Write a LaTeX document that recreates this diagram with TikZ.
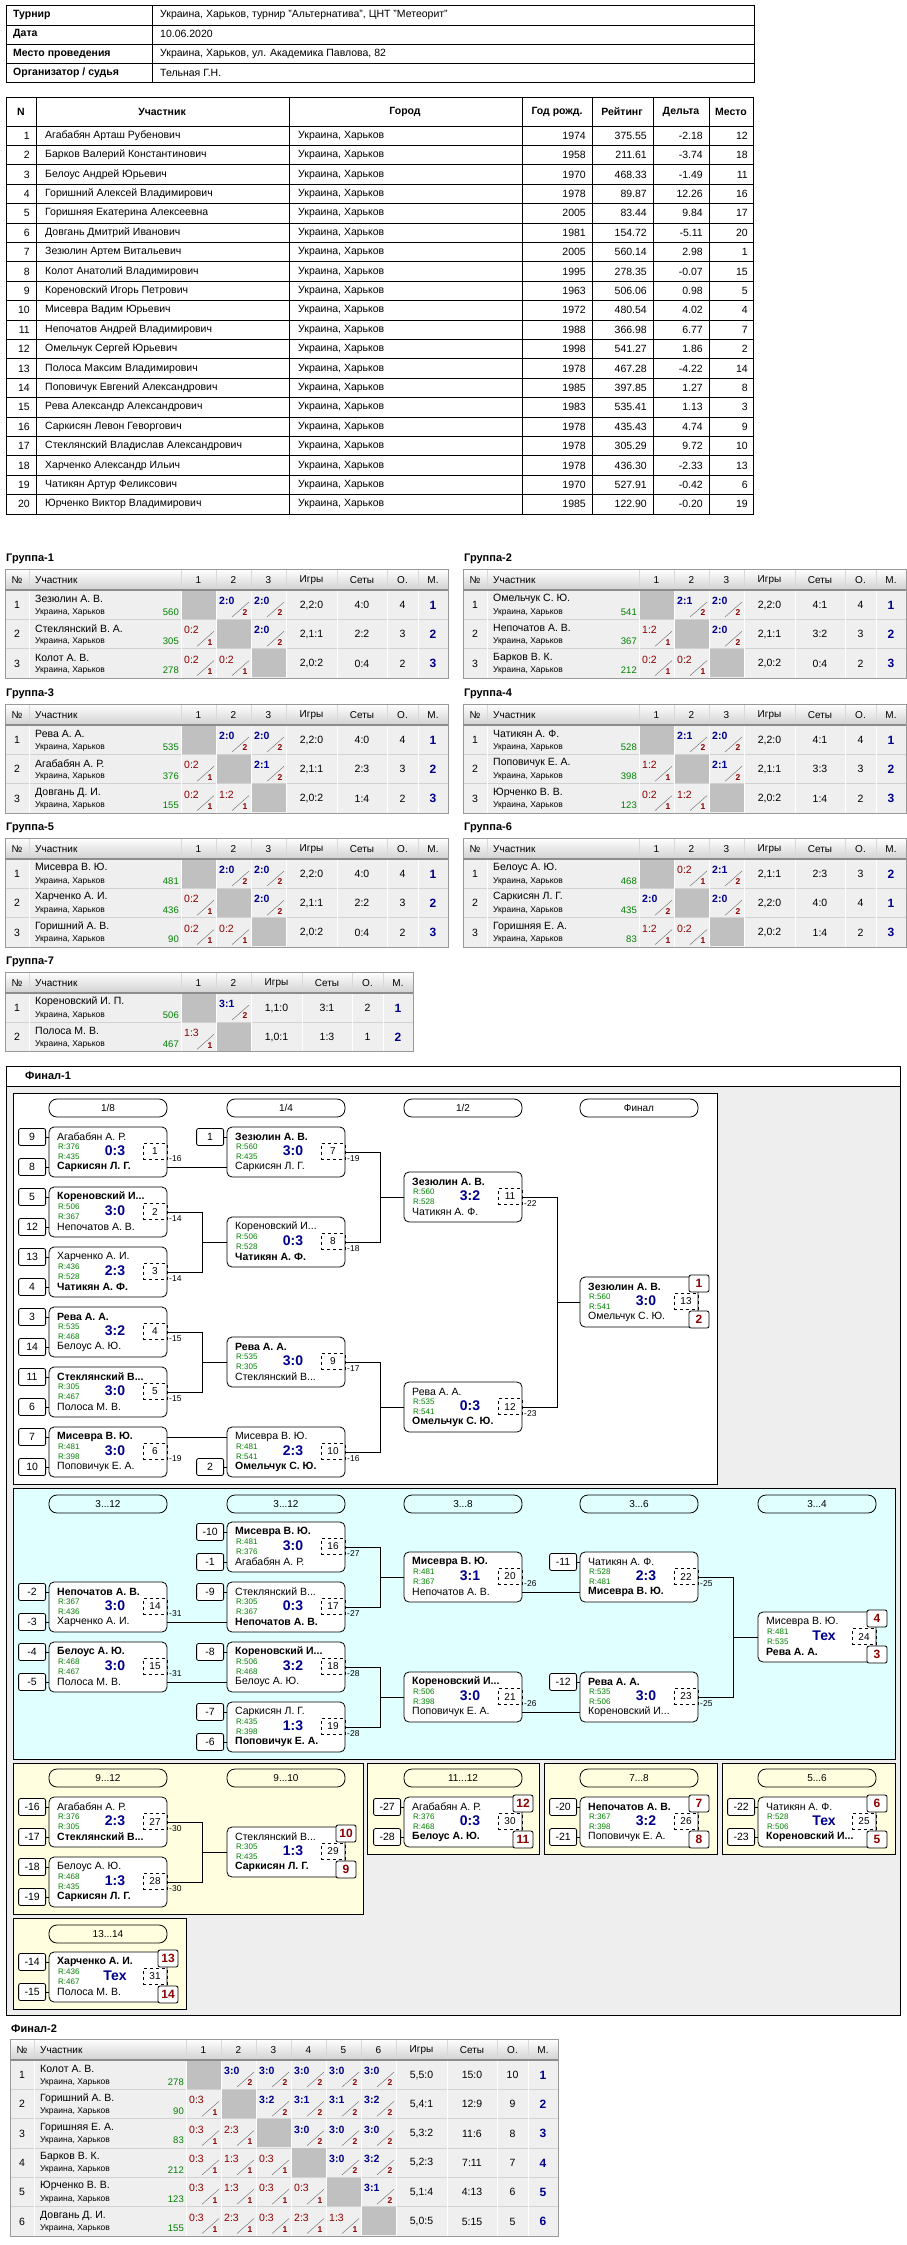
\documentclass[tikz,border=0pt]{standalone}
\usepackage{fontspec}
\setmainfont{Liberation Sans}
\usetikzlibrary{positioning}
\definecolor{navyc}{RGB}{0,0,140}
\definecolor{redc}{RGB}{140,0,0}
\definecolor{greenc}{RGB}{0,128,0}
\definecolor{rowc}{RGB}{239,239,239}
\definecolor{grayc}{RGB}{192,192,192}
\definecolor{cyanp}{RGB}{224,255,255}
\definecolor{yelp}{RGB}{255,255,224}
\definecolor{greyp}{RGB}{238,238,238}

\newcommand\fs[1]{\fontsize{#1}{#1}\selectfont}

% round-robin tables
\newcommand\rrtab[5]{% x0, y0, cols, players, title
  \def\gx{#1}\def\gy{#2}\def\gm{#3}
  \pgfmathsetmacro\xa{#1+176+35*#3}
  \pgfmathsetmacro\yb{#2+21+29.3*#4}
  \node[gtitle] at (#1+1,#2-10) {#5};
  \shade[top color=white,bottom color=black!18] (#1,#2) rectangle (\xa+162,#2+21);
  \fill[rowc] (#1,#2+21) rectangle (\xa+162,\yb);
  \foreach \i in {1,...,#4} \draw[black!18] (#1,#2+21+29.3*\i) -- (\xa+162,#2+21+29.3*\i);
  \foreach \cx in {24,176} \draw[white,line width=1pt] (#1+\cx,#2+21) -- (#1+\cx,\yb);
  \foreach \k in {1,...,#3} \draw[white,line width=1pt] (#1+176+35*\k,#2+21) -- (#1+176+35*\k,\yb);
  \foreach \cx in {51,101,132} \draw[white,line width=1pt] (\xa+\cx,#2+21) -- (\xa+\cx,\yb);
  \foreach \cx in {24,176} \draw[black!15] (#1+\cx,#2) -- (#1+\cx,#2+21);
  \foreach \k in {1,...,#3} \draw[black!15] (#1+176+35*\k,#2) -- (#1+176+35*\k,#2+21);
  \foreach \cx in {51,101,132} \draw[black!15] (\xa+\cx,#2) -- (\xa+\cx,#2+21);
  \draw[black!40] (#1,#2) rectangle (\xa+162,\yb);
  \draw[black!45,line width=1.2pt] (#1,#2+21) -- (\xa+162,#2+21);
  \node[hd] at (#1+12,#2+11) {№};
  \node[hd,anchor=west] at (#1+30,#2+11) {Участник};
  \foreach \k in {1,...,#3} \node[hd] at (#1+158.5+35*\k,#2+11) {\k};
  \node[hd] at (\xa+25.5,#2+11) {Игры};
  \node[hd] at (\xa+76,#2+11) {Сеты};
  \node[hd] at (\xa+116.5,#2+11) {О.};
  \node[hd] at (\xa+147,#2+11) {М.};
}
\newcommand\cellg[3]{\fill[grayc] (#1+0.5,#2+0.5) rectangle (#1+34.5,#2+28.8);}
\newcommand\cellw[3]{%
  \node[anchor=west,font=\fs{10.5}\bfseries,text=navyc] at (#1+3,#2+11) {#3};
  \draw[black!60] (#1+16,#2+27) -- (#1+33,#2+12);
  \node[font=\fs{8.5}\bfseries,text=redc] at (#1+29,#2+23) {2};}
\newcommand\celll[3]{%
  \node[anchor=west,font=\fs{10.5},text=redc] at (#1+3,#2+11) {#3};
  \draw[black!60] (#1+16,#2+27) -- (#1+33,#2+12);
  \node[font=\fs{8.5}\bfseries,text=redc] at (#1+29,#2+23) {1};}
\newcommand\rrrow[8]{% row, name, rating, cells, games, sets, points, place
  \pgfmathsetmacro\ry{\gy+21+29.3*(#1-1)}
  \pgfmathsetmacro\xa{\gx+176+35*\gm}
  \node[cellt] at (\gx+12,\ry+15) {#1};
  \node[cellt,anchor=west] at (\gx+30,\ry+9) {#2};
  \node[anchor=west,font=\fs{8.5}] at (\gx+30,\ry+22) {Украина, Харьков};
  \node[anchor=east,font=\fs{9.5},text=greenc] at (\gx+174,\ry+22) {#3};
  \foreach \t/\s [count=\k] in {#4} {\csname cell\t\endcsname{\gx+176+35*\k-35}{\ry}{\s}}
  \node[cellt] at (\xa+25.5,\ry+15) {#5};
  \node[cellt] at (\xa+76,\ry+15) {#6};
  \node[cellt] at (\xa+116.5,\ry+15) {#7};
  \node[font=\fs{12}\bfseries,text=navyc] at (\xa+147,\ry+15) {#8};
}

% bracket boxes
\newcommand\match[6]{% id, x, y, number, out label, score
  \node[mbox] (#1) at (#2+59,#3+25) {};
  \coordinate (#1-c) at (#2+118,#3+25);
  \coordinate (#1-t) at (#2+118,#3+10);
  \coordinate (#1-b) at (#2+118,#3+40);
  \coordinate (#1-wc) at (#2,#3+25);
  \coordinate (#1-wt) at (#2,#3+10);
  \coordinate (#1-wb) at (#2,#3+40);
  \node[idbox] (#1-n) at (#2+106,#3+24.5) {#4};
  \node[score] at (#2+66,#3+24) {#6};
  \node[lab] at (#2+120,#3+32) {#5};
  \def\mx{#2}\def\my{#3}}
\newcommand\players[4]{%
  \node[pname] at (\mx+8,\my+10) {#1};
  \node[rat] at (\mx+9,\my+20) {R:#2};
  \node[rat] at (\mx+9,\my+30) {R:#3};
  \node[pname] at (\mx+8,\my+40) {#4};}
\newcommand\seed[3]{% match, t/b, text
  \node[seedbox,left=3pt of #1-w#2] (#1-s#2) {#3};
  \draw[conn] (#1-s#2) -- (#1-w#2);}
\newcommand\places[2]{%
  \node[placebox] (pl-#1) at (\mx+119,\my+6.5) {#1};
  \node[placebox] (pl-#2) at (\mx+119,\my+42.5) {#2};}
\newcommand\rnd[3]{\node[round] at (#1+59,#2+9) {#3};}

\begin{document}
\begin{tikzpicture}[x=1pt,y=-1pt,
  every node/.style={inner sep=0pt},
  hd/.style={font=\fs{10}},
  gtitle/.style={anchor=west,font=\fs{11}\bfseries},
  cellt/.style={font=\fs{10.5}},
  conn/.style={line width=0.8pt},
  mbox/.style={draw,line width=0.8pt,rounded corners=5pt,fill=white,minimum width=118pt,minimum height=50pt},
  idbox/.style={draw,dashed,line width=0.6pt,minimum width=24pt,minimum height=16pt,font=\fs{10}},
  score/.style={font=\fs{14}\bfseries,text=navyc},
  lab/.style={anchor=west,font=\fs{8.5}},
  pname/.style={anchor=west,font=\fs{10.5}},
  rat/.style={anchor=west,font=\fs{8},text=greenc},
  seedbox/.style={draw,line width=0.8pt,rounded corners=2pt,fill=white,minimum width=27pt,minimum height=17pt,font=\fs{10.5}},
  placebox/.style={draw,line width=0.8pt,rounded corners=2pt,fill=white,minimum width=20pt,minimum height=17pt,font=\fs{12}\bfseries,text=redc},
  round/.style={draw,line width=0.8pt,rounded corners=8pt,minimum width=118pt,minimum height=18pt,font=\fs{10}},
  panel/.style={draw,line width=0.8pt}]
\useasboundingbox[fill=white] (0,0) rectangle (906,2245);

% tournament info
\draw[line width=0.8pt] (6,5) rectangle (754,82);
\foreach \yy in {25,44,63} \draw[line width=0.8pt] (6,\yy) -- (754,\yy);
\draw[line width=0.8pt] (152,5) -- (152,82);
\foreach \k/\a/\b in {0/Турнир/{Украина, Харьков, турнир "Альтернатива", ЦНТ "Метеорит"},
  1/Дата/10.06.2020, 2/Место проведения/{Украина, Харьков, ул. Академика Павлова, 82},
  3/{Организатор / судья}/Тельная Г.Н.}
{ \node[anchor=west,font=\fs{10.5}\bfseries] at (13,15+19.3*\k) {\a};
  \node[anchor=west,font=\fs{10.5}] at (160,15+19.3*\k) {\b}; }

% participants
\draw[line width=0.8pt] (6,97) rectangle (753,514);
\foreach \cx in {36,289,522,592,653,709} \draw[line width=0.8pt] (\cx,97) -- (\cx,514);
\foreach \k in {0,...,19} \draw[line width=0.8pt] (6,126+19.4*\k) -- (753,126+19.4*\k);
\foreach \cx/\t in {21/N,162/Участник,405/Город,557/Год рожд.,622/Рейтинг,681/Дельта,731/Место}
  \node[font=\fs{10.5}\bfseries] at (\cx,111.5) {\t};
\foreach \nm/\yr/\rt/\dl/\pl [count=\i] in {
  Агабабян Арташ Рубенович/1974/375.55/-2.18/12,
  Барков Валерий Константинович/1958/211.61/-3.74/18,
  Белоус Андрей Юрьевич/1970/468.33/-1.49/11,
  Горишний Алексей Владимирович/1978/89.87/12.26/16,
  Горишняя Екатерина Алексеевна/2005/83.44/9.84/17,
  Довгань Дмитрий Иванович/1981/154.72/-5.11/20,
  Зезюлин Артем Витальевич/2005/560.14/2.98/1,
  Колот Анатолий Владимирович/1995/278.35/-0.07/15,
  Кореновский Игорь Петрович/1963/506.06/0.98/5,
  Мисевра Вадим Юрьевич/1972/480.54/4.02/4,
  Непочатов Андрей Владимирович/1988/366.98/6.77/7,
  Омельчук Сергей Юрьевич/1998/541.27/1.86/2,
  Полоса Максим Владимирович/1978/467.28/-4.22/14,
  Поповичук Евгений Александрович/1985/397.85/1.27/8,
  Рева Александр Александрович/1983/535.41/1.13/3,
  Саркисян Левон Геворгович/1978/435.43/4.74/9,
  Стеклянский Владислав Александрович/1978/305.29/9.72/10,
  Харченко Александр Ильич/1978/436.30/-2.33/13,
  Чатикян Артур Феликсович/1970/527.91/-0.42/6,
  Юрченко Виктор Владимирович/1985/122.90/-0.20/19}
{ \pgfmathsetmacro\ry{126+19.4*(\i-0.5)}
  \node[cellt,anchor=east] at (30,\ry) {\i};
  \node[cellt,anchor=west] at (45,\ry) {\nm};
  \node[cellt,anchor=west] at (298,\ry) {Украина, Харьков};
  \node[cellt,anchor=east] at (586,\ry) {\yr};
  \node[cellt,anchor=east] at (647,\ry) {\rt};
  \node[cellt,anchor=east] at (703,\ry) {\dl};
  \node[cellt,anchor=east] at (748,\ry) {\pl}; }

% groups
\rrtab{5}{569}{3}{3}{Группа-1}
\rrrow{1}{Зезюлин А. В.}{560}{g,w/2:0,w/2:0}{2,2:0}{4:0}{4}{1}
\rrrow{2}{Стеклянский В. А.}{305}{l/0:2,g,w/2:0}{2,1:1}{2:2}{3}{2}
\rrrow{3}{Колот А. В.}{278}{l/0:2,l/0:2,g}{2,0:2}{0:4}{2}{3}
\rrtab{463}{569}{3}{3}{Группа-2}
\rrrow{1}{Омельчук С. Ю.}{541}{g,w/2:1,w/2:0}{2,2:0}{4:1}{4}{1}
\rrrow{2}{Непочатов А. В.}{367}{l/1:2,g,w/2:0}{2,1:1}{3:2}{3}{2}
\rrrow{3}{Барков В. К.}{212}{l/0:2,l/0:2,g}{2,0:2}{0:4}{2}{3}
\rrtab{5}{704}{3}{3}{Группа-3}
\rrrow{1}{Рева А. А.}{535}{g,w/2:0,w/2:0}{2,2:0}{4:0}{4}{1}
\rrrow{2}{Агабабян А. Р.}{376}{l/0:2,g,w/2:1}{2,1:1}{2:3}{3}{2}
\rrrow{3}{Довгань Д. И.}{155}{l/0:2,l/1:2,g}{2,0:2}{1:4}{2}{3}
\rrtab{463}{704}{3}{3}{Группа-4}
\rrrow{1}{Чатикян А. Ф.}{528}{g,w/2:1,w/2:0}{2,2:0}{4:1}{4}{1}
\rrrow{2}{Поповичук Е. А.}{398}{l/1:2,g,w/2:1}{2,1:1}{3:3}{3}{2}
\rrrow{3}{Юрченко В. В.}{123}{l/0:2,l/1:2,g}{2,0:2}{1:4}{2}{3}
\rrtab{5}{838}{3}{3}{Группа-5}
\rrrow{1}{Мисевра В. Ю.}{481}{g,w/2:0,w/2:0}{2,2:0}{4:0}{4}{1}
\rrrow{2}{Харченко А. И.}{436}{l/0:2,g,w/2:0}{2,1:1}{2:2}{3}{2}
\rrrow{3}{Горишний А. В.}{90}{l/0:2,l/0:2,g}{2,0:2}{0:4}{2}{3}
\rrtab{463}{838}{3}{3}{Группа-6}
\rrrow{1}{Белоус А. Ю.}{468}{g,l/0:2,w/2:1}{2,1:1}{2:3}{3}{2}
\rrrow{2}{Саркисян Л. Г.}{435}{w/2:0,g,w/2:0}{2,2:0}{4:0}{4}{1}
\rrrow{3}{Горишняя Е. А.}{83}{l/1:2,l/0:2,g}{2,0:2}{1:4}{2}{3}
\rrtab{5}{972}{2}{2}{Группа-7}
\rrrow{1}{Кореновский И. П.}{506}{g,w/3:1}{1,1:0}{3:1}{2}{1}
\rrrow{2}{Полоса М. В.}{467}{l/1:3,g}{1,0:1}{1:3}{1}{2}

% final 1 frame and panels
\draw[panel,fill=greyp] (6,1066) rectangle (900,2015);
\draw[panel,fill=white] (6,1066) rectangle (900,1086);
\node[gtitle] at (25,1076) {Финал-1};
\draw[panel,fill=white] (13,1093) rectangle (717,1484);
\draw[panel,fill=cyanp] (13,1488) rectangle (895,1759);
\draw[panel,fill=yelp] (13,1763) rectangle (363,1914);
\draw[panel,fill=yelp] (367,1763) rectangle (539,1854);
\draw[panel,fill=yelp] (544,1763) rectangle (717,1854);
\draw[panel,fill=yelp] (722,1763) rectangle (895,1854);
\draw[panel,fill=yelp] (13,1918) rectangle (186,2009);

% main bracket
\rnd{49}{1099}{1/8} \rnd{227}{1099}{1/4} \rnd{404}{1099}{1/2} \rnd{580}{1099}{Финал}
\match{m1}{49}{1127}{1}{-16}{0:3}
\players{Агабабян А. Р.}{376}{435}{\textbf{Саркисян Л. Г.}}
\seed{m1}{t}{9} \seed{m1}{b}{8}
\match{m2}{49}{1187}{2}{-14}{3:0}
\players{\textbf{Кореновский И...}}{506}{367}{Непочатов А. В.}
\seed{m2}{t}{5} \seed{m2}{b}{12}
\match{m3}{49}{1247}{3}{-14}{2:3}
\players{Харченко А. И.}{436}{528}{\textbf{Чатикян А. Ф.}}
\seed{m3}{t}{13} \seed{m3}{b}{4}
\match{m4}{49}{1307}{4}{-15}{3:2}
\players{\textbf{Рева А. А.}}{535}{468}{Белоус А. Ю.}
\seed{m4}{t}{3} \seed{m4}{b}{14}
\match{m5}{49}{1367}{5}{-15}{3:0}
\players{\textbf{Стеклянский В...}}{305}{467}{Полоса М. В.}
\seed{m5}{t}{11} \seed{m5}{b}{6}
\match{m6}{49}{1427}{6}{-19}{3:0}
\players{\textbf{Мисевра В. Ю.}}{481}{398}{Поповичук Е. А.}
\seed{m6}{t}{7} \seed{m6}{b}{10}
\match{m7}{227}{1127}{7}{-19}{3:0}
\players{\textbf{Зезюлин А. В.}}{560}{435}{Саркисян Л. Г.}
\seed{m7}{t}{1}
\match{m8}{227}{1217}{8}{-18}{0:3}
\players{Кореновский И...}{506}{528}{\textbf{Чатикян А. Ф.}}
\match{m9}{227}{1337}{9}{-17}{3:0}
\players{\textbf{Рева А. А.}}{535}{305}{Стеклянский В...}
\match{m10}{227}{1427}{10}{-16}{2:3}
\players{Мисевра В. Ю.}{481}{541}{\textbf{Омельчук С. Ю.}}
\seed{m10}{b}{2}
\match{m11}{404}{1172}{11}{-22}{3:2}
\players{\textbf{Зезюлин А. В.}}{560}{528}{Чатикян А. Ф.}
\match{m12}{404}{1382}{12}{-23}{0:3}
\players{Рева А. А.}{535}{541}{\textbf{Омельчук С. Ю.}}
\match{m13}{580}{1277}{13}{}{3:0}
\players{\textbf{Зезюлин А. В.}}{560}{541}{Омельчук С. Ю.}
\places{1}{2}
\draw[conn] (m1-b) -- (m7-wb);
\draw[conn] (m6-t) -- (m10-wt);
\foreach \a/\b in {m2/m8,m3/m8,m4/m9,m5/m9,m7/m11,m8/m11,m9/m12,m10/m12,m11/m13,m12/m13}
  \draw[conn] (\a-c) -- ++(35,0) |- (\b-wc);

% places 3..12
\rnd{49}{1495}{3...12} \rnd{227}{1495}{3...12} \rnd{404}{1495}{3...8} \rnd{580}{1495}{3...6} \rnd{758}{1495}{3...4}
\match{m14}{49}{1582}{14}{-31}{3:0}
\players{\textbf{Непочатов А. В.}}{367}{436}{Харченко А. И.}
\seed{m14}{t}{-2} \seed{m14}{b}{-3}
\match{m15}{49}{1642}{15}{-31}{3:0}
\players{\textbf{Белоус А. Ю.}}{468}{467}{Полоса М. В.}
\seed{m15}{t}{-4} \seed{m15}{b}{-5}
\match{m16}{227}{1522}{16}{-27}{3:0}
\players{\textbf{Мисевра В. Ю.}}{481}{376}{Агабабян А. Р.}
\seed{m16}{t}{-10} \seed{m16}{b}{-1}
\match{m17}{227}{1582}{17}{-27}{0:3}
\players{Стеклянский В...}{305}{367}{\textbf{Непочатов А. В.}}
\seed{m17}{t}{-9}
\match{m18}{227}{1642}{18}{-28}{3:2}
\players{\textbf{Кореновский И...}}{506}{468}{Белоус А. Ю.}
\seed{m18}{t}{-8}
\match{m19}{227}{1702}{19}{-28}{1:3}
\players{Саркисян Л. Г.}{435}{398}{\textbf{Поповичук Е. А.}}
\seed{m19}{t}{-7} \seed{m19}{b}{-6}
\match{m20}{404}{1552}{20}{-26}{3:1}
\players{\textbf{Мисевра В. Ю.}}{481}{367}{Непочатов А. В.}
\match{m21}{404}{1672}{21}{-26}{3:0}
\players{\textbf{Кореновский И...}}{506}{398}{Поповичук Е. А.}
\match{m22}{580}{1552}{22}{-25}{2:3}
\players{Чатикян А. Ф.}{528}{481}{\textbf{Мисевра В. Ю.}}
\seed{m22}{t}{-11}
\match{m23}{580}{1672}{23}{-25}{3:0}
\players{\textbf{Рева А. А.}}{535}{506}{Кореновский И...}
\seed{m23}{t}{-12}
\match{m24}{758}{1612}{24}{}{Тех}
\players{Мисевра В. Ю.}{481}{535}{\textbf{Рева А. А.}}
\places{4}{3}
\draw[conn] (m14-b) -- (m17-wb);
\draw[conn] (m15-b) -- (m18-wb);
\draw[conn] (m20-b) -- (m22-wb);
\draw[conn] (m21-b) -- (m23-wb);
\foreach \a/\b in {m16/m20,m17/m20,m18/m21,m19/m21,m22/m24,m23/m24}
  \draw[conn] (\a-c) -- ++(35,0) |- (\b-wc);

% places 5..14
\rnd{49}{1769}{9...12} \rnd{227}{1769}{9...10} \rnd{404}{1769}{11...12} \rnd{580}{1769}{7...8} \rnd{758}{1769}{5...6}
\match{m27}{49}{1797}{27}{-30}{2:3}
\players{Агабабян А. Р.}{376}{305}{\textbf{Стеклянский В...}}
\seed{m27}{t}{-16} \seed{m27}{b}{-17}
\match{m28}{49}{1857}{28}{-30}{1:3}
\players{Белоус А. Ю.}{468}{435}{\textbf{Саркисян Л. Г.}}
\seed{m28}{t}{-18} \seed{m28}{b}{-19}
\match{m29}{227}{1827}{29}{}{1:3}
\players{Стеклянский В...}{305}{435}{\textbf{Саркисян Л. Г.}}
\places{10}{9}
\foreach \a in {m27,m28} \draw[conn] (\a-c) -- ++(35,0) |- (m29-wc);
\match{m30}{404}{1797}{30}{}{0:3}
\players{Агабабян А. Р.}{376}{468}{\textbf{Белоус А. Ю.}}
\places{12}{11}
\seed{m30}{t}{-27} \seed{m30}{b}{-28}
\match{m26}{580}{1797}{26}{}{3:2}
\players{\textbf{Непочатов А. В.}}{367}{398}{Поповичук Е. А.}
\places{7}{8}
\seed{m26}{t}{-20} \seed{m26}{b}{-21}
\match{m25}{758}{1797}{25}{}{Тех}
\players{Чатикян А. Ф.}{528}{506}{\textbf{Кореновский И...}}
\places{6}{5}
\seed{m25}{t}{-22} \seed{m25}{b}{-23}
\rnd{49}{1925}{13...14}
\match{m31}{49}{1952}{31}{}{Тех}
\players{\textbf{Харченко А. И.}}{436}{467}{Полоса М. В.}
\places{13}{14}
\seed{m31}{t}{-14} \seed{m31}{b}{-15}

% final 2
\rrtab{10}{2039}{6}{6}{Финал-2}
\rrrow{1}{Колот А. В.}{278}{g,w/3:0,w/3:0,w/3:0,w/3:0,w/3:0}{5,5:0}{15:0}{10}{1}
\rrrow{2}{Горишний А. В.}{90}{l/0:3,g,w/3:2,w/3:1,w/3:1,w/3:2}{5,4:1}{12:9}{9}{2}
\rrrow{3}{Горишняя Е. А.}{83}{l/0:3,l/2:3,g,w/3:0,w/3:0,w/3:0}{5,3:2}{11:6}{8}{3}
\rrrow{4}{Барков В. К.}{212}{l/0:3,l/1:3,l/0:3,g,w/3:0,w/3:2}{5,2:3}{7:11}{7}{4}
\rrrow{5}{Юрченко В. В.}{123}{l/0:3,l/1:3,l/0:3,l/0:3,g,w/3:1}{5,1:4}{4:13}{6}{5}
\rrrow{6}{Довгань Д. И.}{155}{l/0:3,l/2:3,l/0:3,l/2:3,l/1:3,g}{5,0:5}{5:15}{5}{6}
\end{tikzpicture}
\end{document}
